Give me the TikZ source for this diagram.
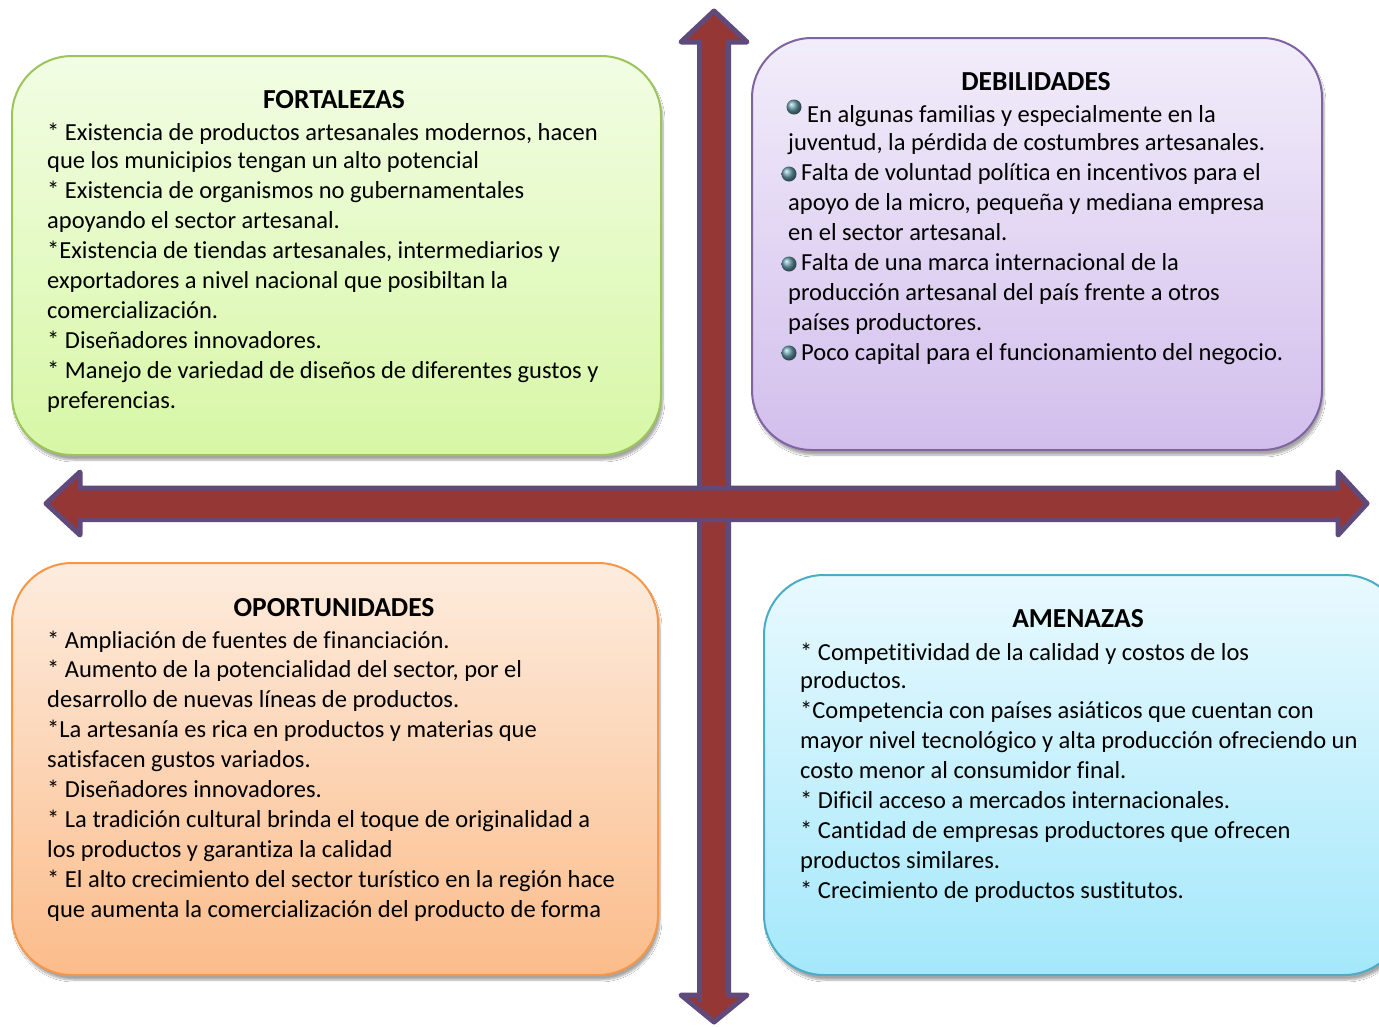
\documentclass[tikz,border=0pt]{standalone}
\usepackage{fontspec}
\setmainfont{Carlito}[Ligatures=NoCommon]
\usetikzlibrary{shadows.blur}
\definecolor{arrfill}{RGB}{149,55,53}
\definecolor{arrline}{RGB}{96,74,123}
\definecolor{gline}{RGB}{155,197,90}
\definecolor{gtop}{RGB}{242,253,228}
\definecolor{gbot}{RGB}{215,247,165}
\definecolor{pline}{RGB}{128,100,162}
\definecolor{ptop}{RGB}{242,237,250}
\definecolor{pbot}{RGB}{210,190,236}
\definecolor{oline}{RGB}{247,150,70}
\definecolor{otop}{RGB}{253,236,222}
\definecolor{obot}{RGB}{251,188,138}
\definecolor{cline}{RGB}{75,172,198}
\definecolor{ctop}{RGB}{232,249,254}
\definecolor{cbot}{RGB}{164,232,251}
\definecolor{bulc}{RGB}{100,155,170}
\tikzset{
  quad/.style={draw=#1line, line width=2pt, rounded corners=60pt, top color=#1top, bottom color=#1bot,
    blur shadow={shadow xshift=2pt, shadow yshift=-5pt, shadow blur steps=8, shadow opacity=35}},
  bigarrow/.style={fill=arrfill, draw=arrline, line width=5pt, line join=round},
  ttl/.style={font=\fontsize{27.5}{31}\selectfont\bfseries, anchor=base, inner sep=0pt},
  txt/.style={font=\fontsize{24.5}{29}\selectfont, anchor=base west, inner sep=0pt},
  bul/.style={ball color=bulc}
}
\begin{document}
\begin{tikzpicture}[x=1pt,y=-1pt]
\useasboundingbox (0,0) rectangle (1379,1026);
\clip (0,0) rectangle (1379,1026);
\fill[white] (0,0) rectangle (1379,1026);

% boxes
\node[quad=g, minimum width=649pt, minimum height=399pt] (fort) at (336.5,255.5) {};
\node[quad=p, minimum width=570pt, minimum height=412pt] (debi) at (1037,244) {};
\node[quad=o, minimum width=646pt, minimum height=412pt] (opor) at (335,769) {};
\node[quad=c, minimum width=640pt, minimum height=400pt] (amen) at (1084,775) {};

% arrows
\draw[bigarrow] (699.5,1000) -- (699.5,42) -- (681,42) -- (714,11) -- (747,42) -- (728.5,42)
  -- (728.5,995) -- (747,995) -- (714,1022) -- (681,995) -- (699.5,995) -- cycle;
\draw[bigarrow] (80,488) -- (1338,488) -- (1338,472) -- (1367,503.5) -- (1338,535) -- (1338,519.5)
  -- (80,519.5) -- (80,535) -- (46,503.5) -- (80,472) -- cycle;

% titles
\node[ttl] (tf) at (334,108) {FORTALEZAS};
\node[ttl] (td) at (1036,90) {DEBILIDADES};
\node[ttl] (to) at (334,616) {OPORTUNIDADES};
\node[ttl] (ta) at (1078,627) {AMENAZAS};

% fortalezas text
\foreach \y/\t [count=\i] in {
 140/{* Existencia de productos artesanales modernos, hacen},
 168/{que los municipios tengan un alto potencial},
 198/{* Existencia de organismos no gubernamentales},
 228/{apoyando el sector artesanal.},
 258/{*Existencia de tiendas artesanales, intermediarios y},
 288/{exportadores a nivel nacional que posibiltan la},
 318/{comercialización.},
 348/{* Diseñadores innovadores.},
 378/{* Manejo de variedad de diseños de diferentes gustos y},
 408/{preferencias.}}
 \node[txt] (f\i) at (47,\y) {\t};

% debilidades text
\foreach \y/\xx/\t [count=\i] in {
 122/807/{En algunas familias y especialmente en la},
 150/788/{juventud, la pérdida de costumbres artesanales.},
 180/801/{Falta de voluntad política en incentivos para el},
 210/788/{apoyo de la micro, pequeña y mediana empresa},
 240/788/{en el sector artesanal.},
 270/801/{Falta de una marca internacional de la},
 300/788/{producción artesanal del país frente a otros},
 330/788/{países productores.},
 360/801/{Poco capital para el funcionamiento del negocio.}}
 \node[txt] (d\i) at (\xx,\y) {\t};
\shade[bul] (794,107) circle (7.5pt);
\shade[bul] (789,174) circle (7.5pt);
\shade[bul] (789,264) circle (7.5pt);
\shade[bul] (789,353) circle (7.5pt);

% oportunidades text
\foreach \y/\t [count=\i] in {
 648/{* Ampliación de fuentes de financiación.},
 677/{* Aumento de la potencialidad del sector, por el},
 707/{desarrollo de nuevas líneas de productos.},
 737/{*La artesanía es rica en productos y materias que},
 767/{satisfacen gustos variados.},
 797/{* Diseñadores innovadores.},
 827/{* La tradición cultural brinda el toque de originalidad a},
 857/{los productos y garantiza la calidad},
 887/{* El alto crecimiento del sector turístico en la región hace},
 917/{que aumenta la comercialización del producto de forma}}
 \node[txt] (o\i) at (47,\y) {\t};

% amenazas text
\foreach \y/\t [count=\i] in {
 660/{* Competitividad de la calidad y costos de los},
 688/{productos.},
 718/{*Competencia con países asiáticos que cuentan con},
 748/{mayor nivel tecnológico y alta producción ofreciendo un},
 778/{costo menor al consumidor final.},
 808/{* Dificil acceso a mercados internacionales.},
 838/{* Cantidad de empresas productores que ofrecen},
 868/{productos similares.},
 898/{* Crecimiento de productos sustitutos.}}
 \node[txt] (a\i) at (800,\y) {\t};
\end{tikzpicture}
\end{document}
